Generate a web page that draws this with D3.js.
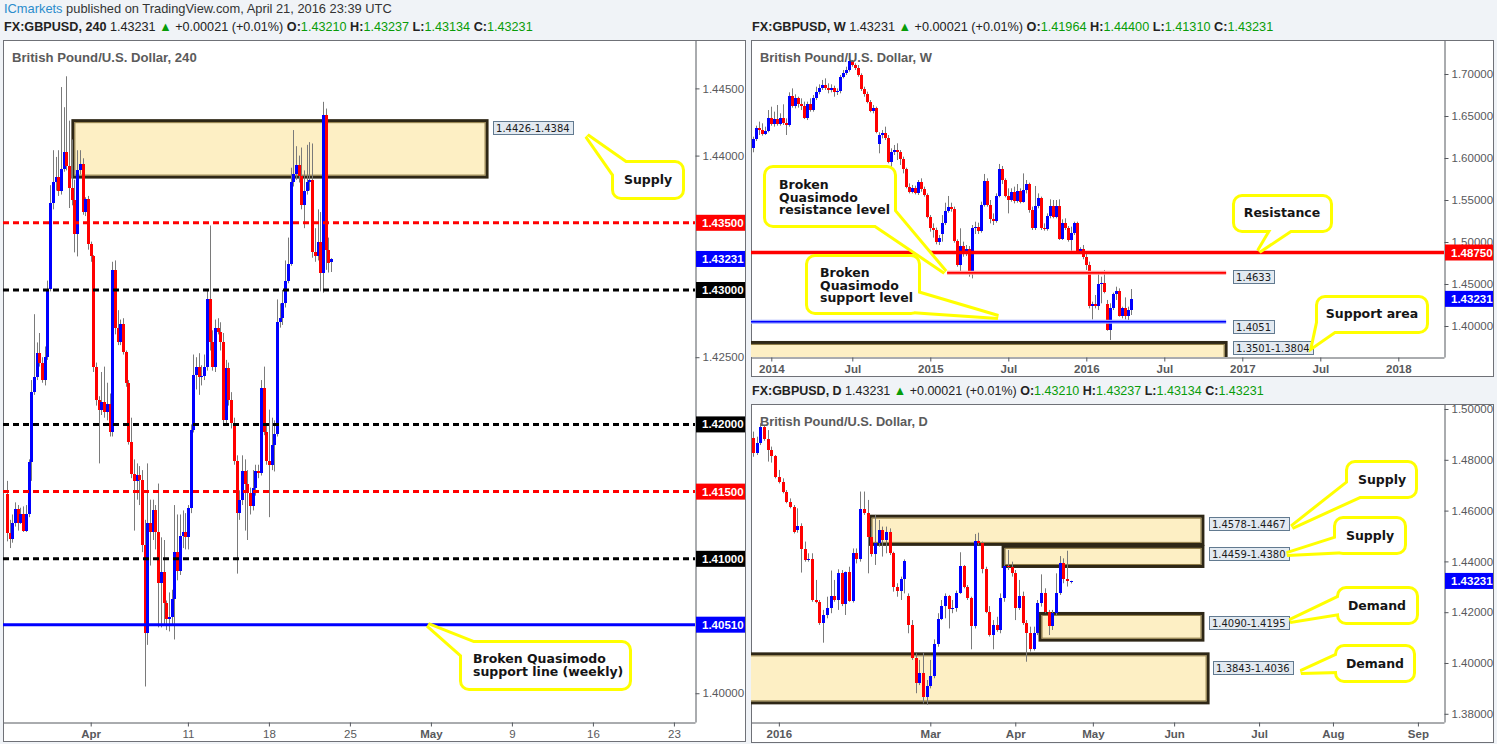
<!DOCTYPE html>
<html><head><meta charset="utf-8">
<script src="https://cdnjs.cloudflare.com/ajax/libs/d3/7.8.5/d3.min.js"></script>
<style>body{margin:0;background:#f0f3f7;}svg{display:block;}text{white-space:pre;}</style>
</head><body>
<script>
// ---------------- DATA ----------------
// 4h candles [open, high, low, close]
const h4Candles = [
[1.4148,1.4158,1.4113,1.4119],[1.4119,1.4129,1.4108,1.4115],[1.4115,1.4133,1.4112,1.4127],[1.4127,1.4142,1.4124,1.4137],
[1.4137,1.4140,1.4121,1.4127],[1.4127,1.4138,1.4126,1.4133],[1.4133,1.4139,1.4120,1.4121],[1.4121,1.4140,1.4120,1.4133],
[1.4133,1.4174,1.4131,1.4172],[1.4172,1.4233,1.4158,1.4224],[1.4224,1.4282,1.4222,1.4235],[1.4235,1.4261,1.4233,1.4253],
[1.4253,1.4268,1.4243,1.4246],[1.4246,1.4250,1.4231,1.4233],[1.4233,1.4258,1.4229,1.4250],[1.4250,1.4307,1.4248,1.4301],
[1.4301,1.4378,1.4299,1.4365],[1.4365,1.4404,1.4360,1.4380],[1.4380,1.4399,1.4374,1.4384],[1.4384,1.4404,1.4370,1.4374],
[1.4374,1.4451,1.4371,1.4390],[1.4390,1.4436,1.4388,1.4403],[1.4403,1.4459,1.4389,1.4392],[1.4392,1.4426,1.4361,1.4376],
[1.4376,1.4412,1.4363,1.4367],[1.4367,1.4382,1.4328,1.4342],[1.4342,1.4404,1.4325,1.4389],[1.4389,1.4404,1.4386,1.4394],
[1.4394,1.4398,1.4356,1.4358],[1.4358,1.4369,1.4355,1.4368],[1.4368,1.4370,1.4330,1.4334],[1.4334,1.4336,1.4321,1.4325],
[1.4325,1.4326,1.4239,1.4243],[1.4243,1.4246,1.4214,1.4218],[1.4218,1.4221,1.4171,1.4211],[1.4211,1.4239,1.4207,1.4217],
[1.4217,1.4243,1.4205,1.4209],[1.4209,1.4231,1.4203,1.4215],[1.4215,1.4223,1.4191,1.4194],[1.4194,1.4321,1.4191,1.4315],
[1.4315,1.4322,1.4267,1.4272],[1.4272,1.4285,1.4259,1.4261],[1.4261,1.4278,1.4259,1.4275],[1.4275,1.4279,1.4252,1.4254],
[1.4254,1.4255,1.4228,1.4231],[1.4231,1.4233,1.4185,1.4187],[1.4187,1.4205,1.4160,1.4163],[1.4163,1.4174,1.4121,1.4158],
[1.4158,1.4171,1.4144,1.4162],[1.4162,1.4169,1.4140,1.4159],[1.4159,1.4166,1.4105,1.4110],[1.4110,1.4129,1.4005,1.4045],
[1.4045,1.4171,1.4036,1.4127],[1.4127,1.4144,1.4095,1.4120],[1.4120,1.4144,1.4114,1.4136],[1.4136,1.4140,1.4107,1.4120],
[1.4120,1.4156,1.4049,1.4082],[1.4082,1.4116,1.4049,1.4090],[1.4090,1.4114,1.4051,1.4067],[1.4067,1.4069,1.4047,1.4055],
[1.4055,1.4075,1.4046,1.4057],[1.4057,1.4077,1.4051,1.4070],[1.4070,1.4140,1.4040,1.4105],[1.4105,1.4133,1.4084,1.4091],
[1.4091,1.4133,1.4088,1.4117],[1.4117,1.4136,1.4108,1.4120],[1.4120,1.4134,1.4107,1.4116],[1.4116,1.4140,1.4107,1.4138],
[1.4138,1.4200,1.4134,1.4196],[1.4196,1.4252,1.4194,1.4237],[1.4237,1.4250,1.4226,1.4243],[1.4243,1.4253,1.4222,1.4235],
[1.4235,1.4244,1.4229,1.4236],[1.4236,1.4252,1.4233,1.4243],[1.4243,1.4300,1.4240,1.4293],[1.4293,1.4348,1.4255,1.4261],
[1.4261,1.4270,1.4240,1.4243],[1.4243,1.4278,1.4239,1.4272],[1.4272,1.4279,1.4267,1.4269],[1.4269,1.4276,1.4255,1.4261],
[1.4261,1.4268,1.4200,1.4203],[1.4203,1.4248,1.4200,1.4242],[1.4242,1.4246,1.4214,1.4218],[1.4218,1.4224,1.4197,1.4201],
[1.4201,1.4205,1.4170,1.4173],[1.4173,1.4177,1.4089,1.4134],[1.4134,1.4151,1.4129,1.4144],[1.4144,1.4177,1.4140,1.4165],
[1.4165,1.4174,1.4121,1.4156],[1.4156,1.4166,1.4114,1.4149],[1.4149,1.4153,1.4133,1.4139],[1.4139,1.4166,1.4136,1.4153],
[1.4153,1.4170,1.4147,1.4165],[1.4165,1.4170,1.4160,1.4164],[1.4164,1.4233,1.4162,1.4227],[1.4227,1.4243,1.4192,1.4194],
[1.4194,1.4200,1.4170,1.4173],[1.4173,1.4211,1.4131,1.4170],[1.4170,1.4205,1.4166,1.4185],[1.4185,1.4203,1.4165,1.4193],
[1.4193,1.4293,1.4191,1.4276],[1.4276,1.4290,1.4272,1.4279],[1.4279,1.4300,1.4274,1.4290],[1.4290,1.4322,1.4287,1.4307],
[1.4307,1.4339,1.4305,1.4319],[1.4319,1.4391,1.4318,1.4380],[1.4380,1.4419,1.4377,1.4386],[1.4386,1.4407,1.4382,1.4393],
[1.4393,1.4400,1.4380,1.4385],[1.4385,1.4406,1.4360,1.4363],[1.4363,1.4389,1.4346,1.4374],[1.4374,1.4408,1.4371,1.4380],
[1.4380,1.4410,1.4374,1.4382],[1.4382,1.4409,1.4324,1.4328],[1.4328,1.4346,1.4321,1.4325],[1.4325,1.4360,1.4322,1.4336],
[1.4336,1.4358,1.4299,1.4313],[1.4313,1.4440,1.4298,1.4430],[1.4430,1.4435,1.4315,1.4330],[1.4330,1.4339,1.4313,1.4320],
[1.43210,1.43237,1.43134,1.43231]
];
const h4TickIdx = [31,67,97,127,157,187,217,247];
const h4TickLabels = ['Apr','11','18','25','May','9','16','23'];
const h4PriceTicks = [1.445,1.440,1.425,1.400];
const h4Levels = [1.4350,1.4300,1.4200,1.4150,1.4100,1.4051];
const h4LevelKinds = ['red','black','black','red','black','blue'];
const h4Zones = [[24.4,177.8,1.4426,1.4384]];
const h4ZoneTags = ['1.4426-1.4384'];
const h4ZoneTagPrice = [1.44209];

// weekly candles [open, high, low, close]
const wkCandles = [
[1.6115,1.6254,1.6068,1.6226],[1.6226,1.6385,1.6202,1.6353],[1.6353,1.6433,1.6274,1.6333],[1.6333,1.6413,1.6266,1.6282],
[1.6282,1.6373,1.6274,1.6321],[1.6321,1.6571,1.6306,1.6472],[1.6472,1.6611,1.6385,1.6401],[1.6401,1.6552,1.6373,1.6464],
[1.6464,1.6631,1.6385,1.6401],[1.6401,1.6532,1.6385,1.6472],[1.6472,1.6639,1.6393,1.6413],[1.6413,1.6472,1.6274,1.6393],
[1.6393,1.6782,1.6373,1.6742],[1.6742,1.6829,1.6599,1.6623],[1.6623,1.6758,1.6591,1.6718],[1.6718,1.6730,1.6599,1.6639],
[1.6639,1.6710,1.6571,1.6623],[1.6623,1.6671,1.6464,1.6480],[1.6480,1.6671,1.6452,1.6639],[1.6639,1.6710,1.6552,1.6571],
[1.6571,1.6750,1.6552,1.6718],[1.6718,1.6849,1.6690,1.6782],[1.6782,1.6877,1.6758,1.6829],[1.6829,1.6929,1.6810,1.6869],
[1.6869,1.6948,1.6810,1.6829],[1.6829,1.6889,1.6770,1.6810],[1.6810,1.6877,1.6782,1.6837],[1.6837,1.6861,1.6730,1.6782],
[1.6782,1.6829,1.6750,1.6798],[1.6798,1.6988,1.6770,1.6968],[1.6968,1.7048,1.6948,1.7008],[1.7008,1.7087,1.6988,1.7048],
[1.7048,1.7187,1.7028,1.7155],[1.7155,1.7167,1.7087,1.7107],[1.7107,1.7127,1.7048,1.7075],[1.7075,1.7107,1.6968,1.6988],
[1.6988,1.7008,1.6798,1.6821],[1.6821,1.6849,1.6730,1.6758],[1.6758,1.6790,1.6651,1.6671],[1.6671,1.6690,1.6544,1.6560],
[1.6560,1.6631,1.6532,1.6599],[1.6599,1.6611,1.6294,1.6306],[1.6163,1.6306,1.6056,1.6274],[1.6274,1.6333,1.6234,1.6294],
[1.6294,1.6373,1.6214,1.6242],[1.6242,1.6274,1.5937,1.5956],[1.5956,1.6115,1.5857,1.6075],[1.6075,1.6155,1.6036,1.6091],
[1.6091,1.6175,1.5976,1.6075],[1.6075,1.6095,1.5917,1.5988],[1.5988,1.6016,1.5817,1.5869],[1.5869,1.5885,1.5639,1.5659],
[1.5659,1.5698,1.5579,1.5599],[1.5599,1.5679,1.5579,1.5639],[1.5639,1.5671,1.5567,1.5587],[1.5587,1.5738,1.5560,1.5718],
[1.5718,1.5758,1.5599,1.5631],[1.5631,1.5659,1.5540,1.5560],[1.5560,1.5579,1.5282,1.5302],[1.5302,1.5321,1.5123,1.5163],
[1.5171,1.5222,1.5052,1.5143],[1.5143,1.5171,1.4972,1.4996],[1.4996,1.5083,1.4964,1.5052],[1.5095,1.5321,1.5004,1.5222],
[1.5222,1.5468,1.5202,1.5373],[1.5373,1.5548,1.5349,1.5413],[1.5413,1.5468,1.5361,1.5393],[1.5393,1.5421,1.4992,1.5016],
[1.5016,1.5032,1.4706,1.4726],[1.4726,1.5163,1.4647,1.4952],[1.4952,1.5004,1.4825,1.4865],[1.4865,1.4964,1.4833,1.4921],
[1.4921,1.4952,1.4587,1.4627],[1.4627,1.5202,1.4567,1.5163],[1.5163,1.5242,1.5095,1.5183],[1.5183,1.5230,1.5095,1.5131],
[1.5131,1.5480,1.5111,1.5440],[1.5440,1.5810,1.5421,1.5730],[1.5730,1.5758,1.5421,1.5440],[1.5440,1.5500,1.5222,1.5270],
[1.5270,1.5341,1.5202,1.5254],[1.5254,1.5579,1.5230,1.5548],[1.5548,1.5929,1.5532,1.5865],[1.5865,1.5905,1.5690,1.5738],
[1.5738,1.5758,1.5532,1.5548],[1.5548,1.5639,1.5341,1.5500],[1.5500,1.5639,1.5480,1.5591],[1.5591,1.5659,1.5460,1.5492],
[1.5492,1.5690,1.5468,1.5611],[1.5611,1.5639,1.5460,1.5480],[1.5480,1.5817,1.5468,1.5619],[1.5619,1.5738,1.5579,1.5690],
[1.5690,1.5706,1.5349,1.5381],[1.5381,1.5421,1.5143,1.5163],[1.5163,1.5667,1.5143,1.5429],[1.5429,1.5579,1.5401,1.5520],
[1.5520,1.5540,1.5143,1.5163],[1.5163,1.5222,1.5135,1.5159],[1.5159,1.5341,1.5135,1.5310],[1.5310,1.5508,1.5282,1.5429],
[1.5429,1.5500,1.5282,1.5302],[1.5302,1.5500,1.5282,1.5429],[1.5429,1.5508,1.5024,1.5040],[1.5040,1.5270,1.5024,1.5230],
[1.5230,1.5282,1.5143,1.5163],[1.5163,1.5190,1.5004,1.5024],[1.5024,1.5183,1.4897,1.5103],[1.5103,1.5242,1.5083,1.5222],
[1.5222,1.5242,1.4873,1.4897],[1.4897,1.4937,1.4857,1.4913],[1.4913,1.4964,1.4794,1.4825],[1.4825,1.4857,1.4667,1.4726],
[1.4726,1.4766,1.4210,1.4242],[1.4242,1.4290,1.4079,1.4262],[1.4262,1.4369,1.4210,1.4242],[1.4242,1.4647,1.4190,1.4500],
[1.4500,1.4587,1.4270,1.4508],[1.4508,1.4667,1.4389,1.4405],[1.4262,1.4310,1.3944,1.3952],[1.3952,1.4270,1.3833,1.4210],
[1.4210,1.4397,1.4190,1.4377],[1.4377,1.4468,1.4310,1.4417],[1.4417,1.4448,1.4111,1.4119],[1.4119,1.4230,1.4091,1.4210],
[1.4210,1.4341,1.4079,1.4119],[1.4119,1.4230,1.4052,1.41964],[1.41964,1.44400,1.41310,1.43231]
];
const wkTickIdx = [6,33,59,85,111,137,163,189,215];
const wkTickLabels = ['2014','Jul','2015','Jul','2016','Jul','2017','Jul','2018'];
const wkPriceTicks = [1.70,1.65,1.60,1.55,1.50,1.45,1.40];
const wkZones = [[-3,157.6,1.3804,1.3501]];
const wkThinLevels = [[64.6,157.6,1.4633],[-3,157.6,1.4051]];
const wkThinKinds = ['red','blue'];
const wkResistance = 1.4875;
const wkTags = ['1.4633','1.4051','1.3501-1.3804'];
const wkTagPrice = [1.4583,1.3994,1.3738];

// daily candles [open, high, low, close]
const dCandles = [
[1.4884,1.4911,1.4812,1.4828],[1.4828,1.4891,1.4819,1.4867],[1.4867,1.4944,1.4858,1.4928],[1.4928,1.4933,1.4875,1.4881],
[1.4881,1.4917,1.4793,1.4839],[1.4839,1.4852,1.4789,1.4815],[1.4815,1.4819,1.4727,1.4734],[1.4734,1.4760,1.4707,1.4714],
[1.4714,1.4727,1.4668,1.4675],[1.4675,1.4681,1.4629,1.4635],[1.4635,1.4648,1.4609,1.4615],[1.4615,1.4622,1.4510,1.4517],
[1.4524,1.4609,1.4513,1.4541],[1.4541,1.4550,1.4356,1.4447],[1.4447,1.4478,1.4399,1.4405],[1.4405,1.4432,1.4399,1.4409],
[1.4408,1.4432,1.4241,1.4248],[1.4248,1.4327,1.4235,1.4241],[1.4241,1.4248,1.4150,1.4156],[1.4156,1.4209,1.4080,1.4189],
[1.4189,1.4261,1.4176,1.4218],[1.4218,1.4364,1.4196,1.4264],[1.4264,1.4327,1.4241,1.4248],[1.4248,1.4369,1.4209,1.4353],
[1.4353,1.4366,1.4224,1.4232],[1.4232,1.4360,1.4189,1.4357],[1.4357,1.4379,1.4241,1.4245],[1.4245,1.4451,1.4238,1.4432],
[1.4432,1.4451,1.4392,1.4408],[1.4408,1.4675,1.4399,1.4605],[1.4605,1.4675,1.4583,1.4589],[1.4589,1.4642,1.4353,1.4497],
[1.4497,1.4537,1.4419,1.4429],[1.4429,1.4583,1.4386,1.4471],[1.4471,1.4563,1.4458,1.4524],[1.4524,1.4537,1.4419,1.4484],
[1.4484,1.4537,1.4432,1.4517],[1.4517,1.4530,1.4425,1.4432],[1.4432,1.4438,1.4281,1.4301],[1.4301,1.4314,1.4261,1.4285],
[1.4285,1.4340,1.4248,1.4329],[1.4329,1.4408,1.4274,1.4402],[1.4264,1.4274,1.4117,1.4150],[1.4150,1.4169,1.4012,1.4018],
[1.4018,1.4038,1.3881,1.3923],[1.3923,1.4012,1.3913,1.3959],[1.3959,1.4041,1.3841,1.3865],[1.3865,1.3933,1.3835,1.3909],
[1.3909,1.4012,1.3900,1.3949],[1.3949,1.4093,1.3940,1.4073],[1.4073,1.4196,1.4064,1.4173],[1.4173,1.4248,1.4169,1.4224],
[1.4224,1.4274,1.4176,1.4264],[1.4264,1.4268,1.4136,1.4211],[1.4211,1.4248,1.4196,1.4215],[1.4215,1.4285,1.4202,1.4277],
[1.4277,1.4436,1.4272,1.4382],[1.4382,1.4386,1.4294,1.4298],[1.4298,1.4307,1.4248,1.4255],[1.4255,1.4261,1.4054,1.4146],
[1.4146,1.4508,1.4136,1.4480],[1.4480,1.4513,1.4465,1.4471],[1.4471,1.4478,1.4353,1.4369],[1.4369,1.4379,1.4196,1.4202],
[1.4202,1.4224,1.4104,1.4110],[1.4110,1.4169,1.4054,1.4150],[1.4150,1.4182,1.4123,1.4130],[1.4130,1.4274,1.4117,1.4255],
[1.4255,1.4405,1.4241,1.4382],[1.4382,1.4445,1.4366,1.4377],[1.4377,1.4399,1.4340,1.4356],[1.4356,1.4366,1.4169,1.4215],
[1.4215,1.4327,1.4209,1.4264],[1.4264,1.4281,1.4150,1.4156],[1.4156,1.4169,1.4005,1.4119],[1.4119,1.4143,1.4045,1.4054],
[1.4054,1.4143,1.4049,1.4119],[1.4119,1.4248,1.4110,1.4235],[1.4235,1.4349,1.4222,1.4277],[1.4277,1.4294,1.4196,1.4202],
[1.4202,1.4209,1.4110,1.4146],[1.4146,1.4209,1.4130,1.4196],[1.4196,1.4353,1.4189,1.4274],[1.4274,1.4421,1.4268,1.4392],
[1.4392,1.4412,1.4314,1.4329],[1.4329,1.4442,1.4301,1.4321],[1.43210,1.43237,1.43134,1.43231]
];
const dTickIdx = [7,48,71,92,114,137,157,180];
const dTickLabels = ['2016','Mar','Apr','May','Jun','Jul','Aug','Sep'];
const dPriceTicks = [1.50,1.48,1.46,1.44,1.42,1.40,1.38];
const dZones = [[31.7,121.8,1.4578,1.4467],[67.7,121.8,1.4459,1.4380],[77.7,121.8,1.4195,1.4090],[-3,123.2,1.4036,1.3843]];
const dTags = ['1.4578-1.4467','1.4459-1.4380','1.4090-1.4195','1.3843-1.4036'];
const dTagPrice = [1.4547,1.4429,1.4156,1.3980];

const lastPrice = 1.43231;
const quote = {chg:'+0.00021 (+0.01%)'};
const ohlc240 = ['1.43210','1.43237','1.43134','1.43231'];
const ohlcW = ['1.41964','1.44400','1.41310','1.43231'];
const ohlcD = ['1.43210','1.43237','1.43134','1.43231'];

// ---------------- DRAWING ----------------
const BLUE='#0000ff', RED='#ff0000', GREEN='#089c08', YEL='#ffff00';
const KIND = {red:RED, black:'#000000', blue:BLUE};
const FONT = '"Liberation Sans", Arial, sans-serif';
const fmt5 = d3.format('.5f');

const svg = d3.select('body').append('svg').attr('width',1497).attr('height',744);
svg.append('rect').attr('width',1497).attr('height',744).attr('fill','#f0f3f7');

function fitText(t, x, w){
  const cw = t.node().getComputedTextLength();
  t.attr('transform',`translate(${x},0) scale(${w/cw},1) translate(${-x},0)`);
}
function header(x, y, sym, tf, vals, w){
  const t = svg.append('text').attr('x',x).attr('y',y).attr('xml:space','preserve')
    .style('font-family',FONT).style('font-size','13px').attr('fill','#222');
  t.append('tspan').style('font-weight','bold').text(sym+', '+tf);
  t.append('tspan').text(' '+fmt5(lastPrice)+' ');
  t.append('tspan').attr('fill',GREEN).text('\u25B2');
  t.append('tspan').text(' '+quote.chg+' ');
  ['O:','H:','L:','C:'].forEach((k,i)=>{
    t.append('tspan').style('font-weight','bold').text((i?' ':'')+k);
    t.append('tspan').attr('fill',GREEN).text(vals[i]);
  });
  fitText(t,x,w);
}
function title(x,y,s,w){
  const t = svg.append('text').attr('x',x).attr('y',y).style('font-family',FONT)
   .style('font-size','13px').style('font-weight','bold').attr('fill','#5b5b5b').text(s);
  fitText(t,x,w);
}

function panel(cfg){
  const {id, frame, plot, xDom, yDom} = cfg;
  const g = svg.append('g');
  g.append('rect').attr('x',frame.x+0.5).attr('y',frame.y+0.5).attr('width',frame.w).attr('height',frame.h)
    .attr('fill','#fff').attr('stroke','#6f7177');
  const x = d3.scaleLinear().domain(xDom).range([plot.l, plot.r]);
  const y = d3.scaleLinear().domain(yDom).range([plot.b, plot.t]);
  svg.append('clipPath').attr('id','c'+id).append('rect')
    .attr('x',plot.l).attr('y',plot.t).attr('width',plot.r-plot.l).attr('height',plot.b-plot.t);
  svg.append('clipPath').attr('id','f'+id).append('rect')
    .attr('x',frame.x+1).attr('y',frame.y+1).attr('width',frame.w-1).attr('height',frame.h-1);
  const pg = g.append('g').attr('clip-path',`url(#c${id})`);
  const ag = g.append('g').attr('clip-path',`url(#f${id})`);
  return {g, pg, ag, x, y, plot, frame};
}

function zones(P, zs){
  P.pg.append('g').selectAll('rect').data(zs).join('rect')
    .attr('x',d=>P.x(d[0])).attr('width',d=>P.x(d[1])-P.x(d[0]))
    .attr('y',d=>P.y(Math.max(d[2],d[3]))).attr('height',d=>Math.abs(P.y(d[2])-P.y(d[3])))
    .attr('fill','#fdefc4').attr('stroke','#2e2716').attr('stroke-width',3);
  P.pg.append('g').selectAll('rect').data(zs).join('rect')
    .attr('x',d=>P.x(d[0])+2).attr('width',d=>P.x(d[1])-P.x(d[0])-4)
    .attr('y',d=>P.y(Math.max(d[2],d[3]))+2).attr('height',d=>Math.abs(P.y(d[2])-P.y(d[3]))-4)
    .attr('fill','none').attr('stroke','#8d7a45').attr('stroke-width',1);
}
function candles(P, data, bw){
  const cg = P.pg.append('g');
  cg.append('g').selectAll('line').data(data).join('line')
    .attr('x1',(d,i)=>Math.round(P.x(i))+0.5).attr('x2',(d,i)=>Math.round(P.x(i))+0.5)
    .attr('y1',d=>P.y(d[1])).attr('y2',d=>P.y(d[2])).attr('stroke','#7a7a7a').attr('stroke-width',1);
  cg.append('g').attr('shape-rendering','crispEdges').selectAll('rect').data(data).join('rect')
    .attr('x',(d,i)=>Math.round(P.x(i))+0.5-bw/2).attr('width',bw)
    .attr('y',d=>P.y(Math.max(d[0],d[3])))
    .attr('height',d=>Math.max(1,Math.abs(P.y(d[0])-P.y(d[3]))))
    .attr('fill',d=>d[3]>=d[0]?BLUE:RED);
}
function priceAxis(P, ticks){
  const ax = d3.axisRight(P.y).tickValues(ticks).tickFormat(fmt5).tickSize(4).tickSizeOuter(0).tickPadding(3);
  P.ag.append('g').attr('transform',`translate(${P.plot.r+0.5},0)`).call(ax)
   .call(a=>{a.select('.domain').attr('stroke','#55585e');
     a.selectAll('.tick line').attr('stroke','#55585e');
     a.selectAll('text').attr('fill','#58595c').style('font-family',FONT).style('font-size','11.5px');});
}
function timeAxis(P, idx, labels){
  const ax = d3.axisBottom(P.x).tickValues(idx).tickFormat((d,i)=>labels[i]).tickSize(4).tickSizeOuter(0).tickPadding(3);
  P.ag.append('g').attr('transform',`translate(0,${P.plot.b+0.5})`).call(ax)
   .call(a=>{a.select('.domain').attr('stroke','#55585e');
     a.selectAll('.tick line').attr('stroke','#55585e');
     a.selectAll('text').attr('fill','#58595c').style('font-family',FONT).style('font-size','11.5px')
      .style('font-weight',(d,i)=>/^[A-Z]|^\d{4}$/.test(labels[i])?'bold':'normal');});
}
function axisTag(P, price, color){
  const g = P.ag.append('g');
  const yy = P.y(price);
  g.append('rect').attr('x',P.plot.r+1).attr('y',yy-8).attr('width',P.frame.x+P.frame.w-P.plot.r-1).attr('height',16).attr('fill',color);
  g.append('text').attr('x',P.plot.r+7).attr('y',yy+4).attr('fill','#fff').style('font-family',FONT)
    .style('font-size','11.5px').style('font-weight','bold').text(fmt5(price));
}
function valueTag(P, xIdx, price, label, dx){
  const g = P.g.append('g');
  const x0 = P.x(xIdx)+dx, yy = P.y(price);
  const t = g.append('text').attr('x',x0+3).attr('y',yy+4).attr('fill','#1c1c1c')
    .style('font-family','"DejaVu Sans", sans-serif').style('font-size','10px').text(label);
  const w = t.node().getComputedTextLength();
  g.insert('rect','text').attr('x',Math.round(x0)+0.5).attr('y',Math.round(yy-7)+0.5).attr('width',Math.round(w+6)).attr('height',13)
    .attr('fill','#e3eaf1').attr('stroke','#627a90');
}
function hline(P, x0, x1, price, color, width, dash){
  const l = P.pg.append('line').attr('x1',x0).attr('x2',x1).attr('y1',P.y(price)).attr('y2',P.y(price))
    .attr('stroke',color).attr('stroke-width',width);
  if(dash) l.attr('stroke-dasharray',dash);
  return l;
}
function balloon(b){
  const g = svg.append('g');
  const pts = [b.base[0], b.tip, b.base[1]].map(p=>p.join(',')).join(' ');
  [[6,YEL]].forEach(([sw,c])=>{
    g.append('polygon').attr('points',pts).attr('fill','#fff').attr('stroke',c).attr('stroke-width',sw).attr('stroke-linejoin','miter');
    g.append('rect').attr('x',b.x).attr('y',b.y).attr('width',b.w).attr('height',b.h).attr('rx',7).attr('fill','#fff').attr('stroke',c).attr('stroke-width',sw);
  });
  g.append('polygon').attr('points',pts).attr('fill','#fff');
  g.append('rect').attr('x',b.x).attr('y',b.y).attr('width',b.w).attr('height',b.h).attr('rx',7).attr('fill','#fff');
  b.lines.forEach((s,i)=>{
    g.append('text').attr('x',b.tx).attr('y',b.ty+i*12.5).attr('text-anchor',b.anchor||'start')
     .style('font-family','"DejaVu Sans", Verdana, sans-serif').style('font-size','12.5px').style('font-weight','bold')
     .attr('fill','#151515').text(s);
  });
}

// ---------- Top text ----------
{
  const t = svg.append('text').attr('x',4).attr('y',13).attr('xml:space','preserve').style('font-family',FONT).style('font-size','13px');
  t.append('tspan').attr('fill','#2a8ccc').text('ICmarkets');
  t.append('tspan').attr('fill','#333').text(' published on TradingView.com, April 21, 2016 23:39 UTC');
  fitText(t,4,388);
}
header(4,31,'FX:GBPUSD','240',ohlc240,529);
header(752,31,'FX:GBPUSD','W',ohlcW,522);
header(752,395,'FX:GBPUSD','D',ohlcD,512);

// ---------- Panel 1: 4h ----------
const P1 = panel({id:1, frame:{x:3,y:40,w:742,h:701}, plot:{l:3,r:695,t:40,b:722},
  xDom:[-1.48,254.81], yDom:[1.39786,1.44860]});
zones(P1, h4Zones);
candles(P1, h4Candles, 2.2);
h4Levels.forEach((p,i)=>{
  const k = h4LevelKinds[i];
  hline(P1, P1.plot.l, P1.plot.r, p, KIND[k], 3, k==='blue'?null:'6,4');
});
priceAxis(P1, h4PriceTicks);
timeAxis(P1, h4TickIdx, h4TickLabels);
h4Levels.forEach((p,i)=>axisTag(P1,p,KIND[h4LevelKinds[i]]));
axisTag(P1,lastPrice,BLUE);
h4Zones.forEach((z,i)=>valueTag(P1, z[1], h4ZoneTagPrice[i], h4ZoneTags[i], 6));
title(12,62,'British Pound/U.S. Dollar, 240',185);

// ---------- Panel 2: weekly ----------
const P2 = panel({id:2, frame:{x:751,y:40,w:742,h:336}, plot:{l:751,r:1444,t:40,b:357},
  xDom:[-0.767,230.23], yDom:[1.36310,1.74048]});
zones(P2, wkZones);
candles(P2, wkCandles, 2.2);
hline(P2, P2.plot.l, P2.plot.r, wkResistance, RED, 3.5, null);
wkThinLevels.forEach((d,i)=>{
  const c = wkThinKinds[i]==='red' ? ['#ff9a9a',RED] : ['#9aa8ff',BLUE];
  hline(P2, P2.x(d[0]), P2.x(d[1]), d[2], c[0], 4, null);
  hline(P2, P2.x(d[0]), P2.x(d[1]), d[2], c[1], 1.6, null);
});
priceAxis(P2, wkPriceTicks);
timeAxis(P2, wkTickIdx, wkTickLabels);
axisTag(P2, wkResistance, RED);
axisTag(P2, lastPrice, BLUE);
valueTag(P2, 157.6, wkTagPrice[0], wkTags[0], 7);
valueTag(P2, 157.6, wkTagPrice[1], wkTags[1], 7);
valueTag(P2, 157.6, wkTagPrice[2], wkTags[2], 7);
title(760,62,'British Pound/U.S. Dollar, W',172);

// ---------- Panel 3: daily ----------
const P3 = panel({id:3, frame:{x:751,y:404,w:742,h:338}, plot:{l:751,r:1444,t:404,b:722},
  xDom:[-0.541,187.06], yDom:[1.37677,1.50197]});
zones(P3, dZones);
candles(P3, dCandles, 3);
priceAxis(P3, dPriceTicks);
timeAxis(P3, dTickIdx, dTickLabels);
axisTag(P3, lastPrice, BLUE);
dZones.forEach((z,i)=>valueTag(P3, z[1], dTagPrice[i], dTags[i], i===3?5:6));
title(760,426,'British Pound/U.S. Dollar, D',168);

// ---------- Callouts ----------
balloon({x:614,y:163,w:68,h:34,base:[[627,164],[615,176]],tip:[587,136],lines:['Supply'],tx:648,ty:184,anchor:'middle'});
balloon({x:462,y:643,w:167,h:45,base:[[476,644],[463,656]],tip:[428,625],lines:['Broken Quasimodo','support line (weekly)'],tx:473,ty:663});
balloon({x:766,y:168,w:128,h:57,base:[[874,224],[893,210]],tip:[945,272],lines:['Broken','Quasimodo','resistance level'],tx:779,ty:189});
balloon({x:808,y:257,w:110,h:55,base:[[917,293],[910,311]],tip:[998,317],lines:['Broken','Quasimodo','support level'],tx:820,ty:277});
balloon({x:1235,y:197,w:95,h:33,base:[[1272,229],[1292,229]],tip:[1259,251],lines:['Resistance'],tx:1282,ty:217,anchor:'middle'});
balloon({x:1318,y:298,w:108,h:33,base:[[1319,318],[1336,330]],tip:[1313,346],lines:['Support area'],tx:1372,ty:318,anchor:'middle'});
balloon({x:1348,y:463,w:67,h:33,base:[[1349,482],[1362,495]],tip:[1292,527],lines:['Supply'],tx:1382,ty:484,anchor:'middle'});
balloon({x:1336,y:519,w:68,h:33,base:[[1337,538],[1348,551]],tip:[1287,554],lines:['Supply'],tx:1370,ty:540,anchor:'middle'});
balloon({x:1339,y:589,w:77,h:33,base:[[1340,597],[1340,613]],tip:[1290,621],lines:['Demand'],tx:1377,ty:610,anchor:'middle'});
balloon({x:1337,y:647,w:76,h:33,base:[[1338,655],[1338,671]],tip:[1301,672],lines:['Demand'],tx:1375,ty:668,anchor:'middle'});
</script>
</body></html>
